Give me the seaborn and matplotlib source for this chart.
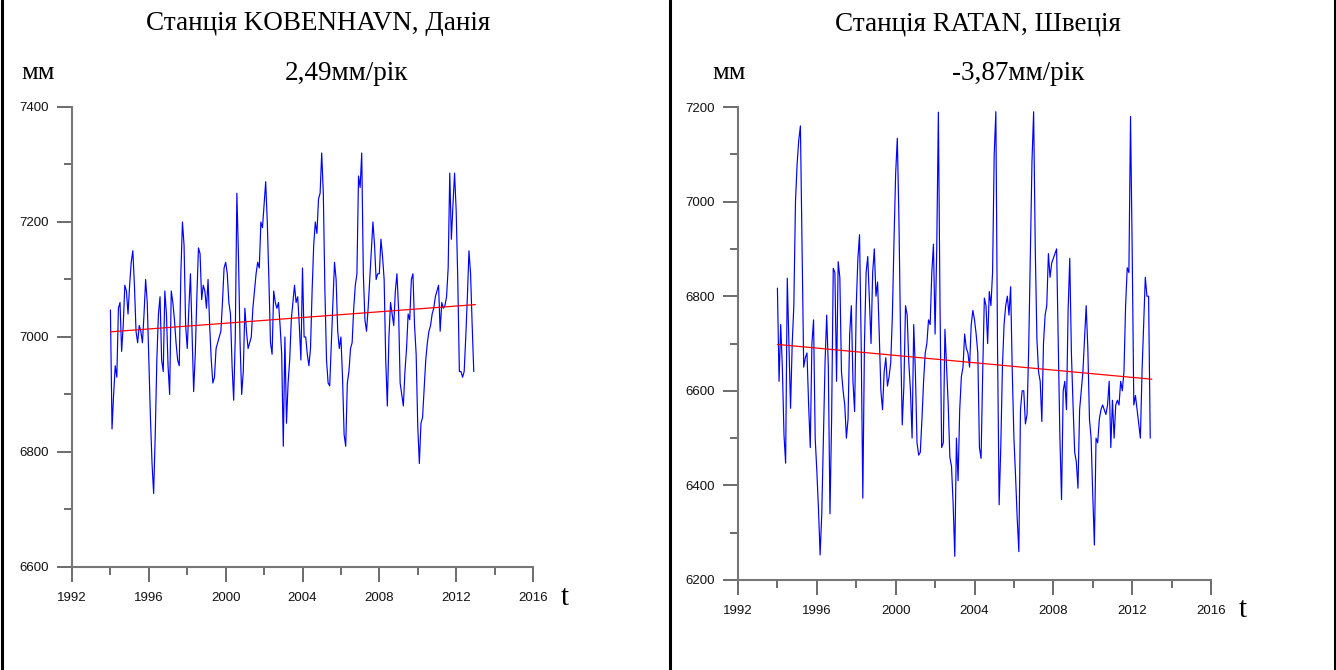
import numpy as np
import pandas as pd
import matplotlib
matplotlib.use('Agg')
import matplotlib.pyplot as plt
from matplotlib.lines import Line2D
from matplotlib.ticker import MultipleLocator
import seaborn as sns

# monthly sea level, mm, Jan 1994 - Dec 2012
kobenhavn = [
    7047, 6840, 6900, 6950, 6930, 7050, 7060, 6975, 7020, 7090, 7080, 7040,  # 1994
    7090, 7130, 7150, 7090, 7010, 6990, 7020, 7010, 6990, 7040, 7100, 7060,  # 1995
    6960, 6860, 6780, 6728, 6830, 6960, 7040, 7070, 6960, 6940, 7080, 7040,  # 1996
    6950, 6900, 7080, 7060, 7030, 6990, 6960, 6950, 7110, 7200, 7160, 7020,  # 1997
    6980, 7050, 7110, 7010, 6905, 6970, 7070, 7155, 7145, 7065, 7090, 7080,  # 1998
    7050, 7100, 7020, 6960, 6920, 6930, 6980, 6990, 7000, 7010, 7060, 7120,  # 1999
    7130, 7110, 7060, 7040, 6950, 6890, 7000, 7250, 7140, 6990, 6900, 6940,  # 2000
    7050, 7010, 6980, 6990, 7000, 7050, 7080, 7110, 7130, 7120, 7200, 7190,  # 2001
    7230, 7270, 7200, 7100, 6990, 6970, 7080, 7060, 7050, 7060, 7020, 6970,  # 2002
    6810, 7000, 6850, 6920, 6960, 7030, 7060, 7090, 7060, 7070, 7020, 6960,  # 2003
    7120, 7000, 7000, 6970, 6950, 6980, 7080, 7160, 7200, 7180, 7240, 7250,  # 2004
    7320, 7250, 7080, 6960, 6920, 6915, 6990, 7060, 7130, 7100, 7010, 6980,  # 2005
    7000, 6930, 6830, 6810, 6920, 6940, 6980, 6990, 7050, 7090, 7110, 7280,  # 2006
    7260, 7320, 7110, 7030, 7010, 7050, 7100, 7150, 7200, 7160, 7100, 7110,  # 2007
    7110, 7170, 7140, 7100, 6960, 6880, 7000, 7060, 7040, 7020, 7080, 7110,  # 2008
    7050, 6920, 6900, 6880, 6940, 6980, 7040, 7030, 7100, 7110, 7020, 6970,  # 2009
    6845, 6780, 6850, 6860, 6910, 6960, 6990, 7010, 7020, 7040, 7050, 7070,  # 2010
    7080, 7090, 7010, 7060, 7050, 7055, 7070, 7120, 7285, 7170, 7230, 7285,  # 2011
    7220, 7100, 6940, 6940, 6930, 6940, 7000, 7070, 7150, 7110, 7020, 6940,  # 2012
]

ratan = [
    6817, 6620, 6740, 6650, 6507, 6447, 6838, 6700, 6563, 6700, 6780, 7000,  # 1994
    7080, 7130, 7160, 6900, 6650, 6670, 6680, 6570, 6480, 6700, 6750, 6500,  # 1995
    6430, 6350, 6253, 6340, 6500, 6660, 6760, 6650, 6340, 6540, 6859, 6850,  # 1996
    6620, 6873, 6840, 6640, 6600, 6570, 6500, 6540, 6720, 6780, 6620, 6556,  # 1997
    6780, 6880, 6930, 6700, 6373, 6700, 6850, 6884, 6790, 6700, 6850, 6900,  # 1998
    6800, 6830, 6720, 6600, 6560, 6640, 6670, 6610, 6630, 6660, 6760, 6920,  # 1999
    7060, 7134, 6960, 6710, 6528, 6610, 6780, 6760, 6660, 6600, 6500, 6740,  # 2000
    6640, 6490, 6464, 6470, 6540, 6620, 6680, 6700, 6750, 6740, 6850, 6910,  # 2001
    6720, 6900, 7189, 6780, 6480, 6490, 6730, 6650, 6570, 6460, 6440, 6360,  # 2002
    6250, 6500, 6410, 6560, 6630, 6650, 6720, 6690, 6680, 6650, 6740, 6770,  # 2003
    6750, 6720, 6680, 6480, 6457, 6640, 6796, 6780, 6700, 6810, 6780, 6850,  # 2004
    7100, 7190, 6700, 6359, 6480, 6650, 6740, 6780, 6800, 6760, 6820, 6640,  # 2005
    6500, 6420, 6330, 6260, 6560, 6600, 6600, 6530, 6550, 6690, 6890, 7085,  # 2006
    7190, 6900, 6710, 6640, 6620, 6535, 6700, 6760, 6780, 6890, 6840, 6870,  # 2007
    6880, 6890, 6900, 6700, 6500, 6370, 6600, 6620, 6560, 6770, 6880, 6680,  # 2008
    6570, 6470, 6450, 6394, 6560, 6600, 6640, 6710, 6780, 6690, 6540, 6500,  # 2009
    6380, 6274, 6500, 6490, 6540, 6560, 6570, 6560, 6550, 6570, 6620, 6480,  # 2010
    6580, 6500, 6570, 6580, 6570, 6620, 6600, 6640, 6780, 6860, 6850, 7180,  # 2011
    6900, 6570, 6590, 6560, 6530, 6500, 6640, 6740, 6840, 6800, 6800, 6500,  # 2012
]

start_year = 1994
# linear trend: value at start, mm per year
trend_kob = (7009, 2.49)
trend_rat = (6698, -3.87)

titles = ['Станція KOBENHAVN, Данія', 'Станція RATAN, Швеція']
trend_labels = ['2,49мм/рік', '-3,87мм/рік']
ylims = [(6600, 7400), (6200, 7200)]

sns.set_style('white')
plt.rcParams['font.family'] = ['Liberation Sans', 'DejaVu Sans']
plt.rcParams['text.color'] = 'black'
plt.rcParams['xtick.color'] = '#333333'
plt.rcParams['ytick.color'] = '#333333'

fig = plt.figure(figsize=(13.36, 6.70), dpi=100)
ax_l = fig.add_axes([72/1336, 1-567/670, 461/1336, 460/670])
ax_r = fig.add_axes([738/1336, 1-580/670, 473/1336, 473/670])

serif = ['Liberation Serif', 'DejaVu Serif']

for ax, vals, trend, ylim in zip([ax_l, ax_r], [kobenhavn, ratan],
                                 [trend_kob, trend_rat], ylims):
    df = pd.DataFrame({'t': start_year + np.arange(len(vals)) / 12.0, 'h': vals})
    sns.lineplot(data=df, x='t', y='h', ax=ax, color='#0000ff', lw=0.85)
    t_end = start_year + len(vals) / 12.0
    tr = pd.DataFrame({'t': [start_year, t_end],
                       'h': [trend[0], trend[0] + trend[1] * (t_end - start_year)]})
    sns.lineplot(data=tr, x='t', y='h', ax=ax, color='#ff0000', lw=0.9)

    ax.set_xlim(1992, 2016)
    ax.set_ylim(*ylim)
    ax.xaxis.set_major_locator(MultipleLocator(4))
    ax.xaxis.set_minor_locator(MultipleLocator(2))
    ax.yaxis.set_major_locator(MultipleLocator(200))
    ax.yaxis.set_minor_locator(MultipleLocator(100))
    ax.set_xlabel('')
    ax.set_ylabel('')
    for s in ['top', 'right']:
        ax.spines[s].set_visible(False)
    for s in ['left', 'bottom']:
        ax.spines[s].set_color('#777777')
        ax.spines[s].set_linewidth(1.5)
    ax.tick_params(which='major', direction='out', length=11, width=1.1,
                   color='#444444', labelcolor='#111111', labelsize=9.5, pad=6,
                   left=True, bottom=True)
    ax.tick_params(which='minor', direction='out', length=5.5, width=1.1,
                   color='#444444', left=True, bottom=True)
    ax.tick_params(axis='x', pad=7)
    ax.set_facecolor('white')

# texts
fig.text(318/1336, 1-24/670, titles[0], ha='center', va='center', fontsize=19.5, family=serif)
fig.text(978/1336, 1-24/670, titles[1], ha='center', va='center', fontsize=19.5, family=serif)
fig.text(38/1336, 1-73/670, 'мм', ha='center', va='center', fontsize=19, family=serif)
fig.text(729/1336, 1-73/670, 'мм', ha='center', va='center', fontsize=19, family=serif)
fig.text(347/1336, 1-73/670, trend_labels[0], ha='center', va='center', fontsize=19.5, family=serif)
fig.text(1018/1336, 1-73/670, trend_labels[1], ha='center', va='center', fontsize=19.5, family=serif)
fig.text(565/1336, 1-598/670, 't', ha='center', va='center', fontsize=21, family=serif)
fig.text(1243/1336, 1-610/670, 't', ha='center', va='center', fontsize=21, family=serif)

# table cell borders
for xp in [1.5/1336, 670/1336, 1334.5/1336]:
    fig.add_artist(Line2D([xp, xp], [0, 1], transform=fig.transFigure,
                          color='black', lw=2.2))

fig.savefig('out.png', dpi=100, facecolor='white')
